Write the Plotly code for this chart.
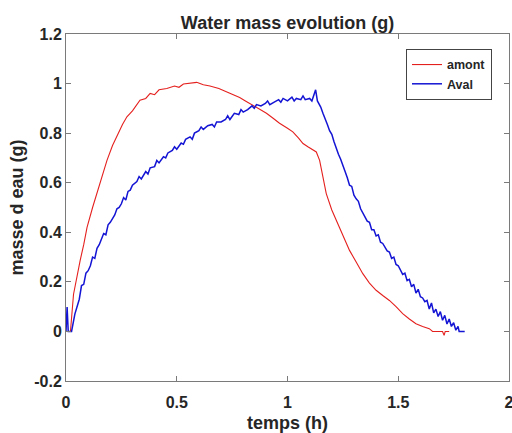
import plotly.graph_objects as go

amont_t = [0, 0.02, 0.034, 0.05, 0.064, 0.08, 0.095, 0.12, 0.14, 0.16, 0.185, 0.21, 0.237, 0.255, 0.275,
           0.30, 0.334, 0.36, 0.38, 0.40, 0.42, 0.455, 0.49, 0.51, 0.53, 0.56, 0.59, 0.62, 0.65, 0.69, 0.725, 0.76,
           0.784, 0.81, 0.844, 0.875, 0.905, 0.935, 0.964, 1.0, 1.024, 1.05, 1.07, 1.092, 1.11, 1.13,
           1.145, 1.16, 1.175, 1.20, 1.22, 1.25, 1.28, 1.31, 1.34, 1.37, 1.40, 1.43, 1.46, 1.49, 1.52,
           1.55, 1.58, 1.61, 1.64, 1.655, 1.70, 1.707, 1.712, 1.73]
amont_m = [0, 0, 0.15, 0.23, 0.287, 0.35, 0.42, 0.50, 0.556, 0.62, 0.69, 0.75, 0.805, 0.835, 0.866,
           0.89, 0.933, 0.94, 0.96, 0.955, 0.975, 0.98, 0.99, 0.985, 0.998, 1.0, 1.005, 0.995, 0.99, 0.98, 0.967, 0.955,
           0.944, 0.93, 0.913, 0.895, 0.88, 0.86, 0.84, 0.82, 0.805, 0.78, 0.758, 0.745, 0.735, 0.724,
           0.69, 0.62, 0.556, 0.49, 0.448, 0.385, 0.327, 0.28, 0.233, 0.195, 0.166, 0.145, 0.125, 0.10, 0.072,
           0.05, 0.031, 0.02, 0.011, 0.0, 0.0, -0.016, 0.0, 0.0]

aval_t = [0, 0.005, 0.01, 0.025, 0.04, 0.05, 0.06, 0.07, 0.08, 0.09, 0.10, 0.11, 0.12, 0.13, 0.14, 0.15,
          0.16, 0.17, 0.18, 0.19, 0.20, 0.21, 0.22, 0.23, 0.24, 0.25, 0.26, 0.27, 0.28, 0.29, 0.30, 0.32,
          0.33, 0.34, 0.36, 0.37, 0.38, 0.40, 0.41, 0.42, 0.44, 0.45, 0.46, 0.48, 0.49, 0.50, 0.52, 0.53,
          0.54, 0.56, 0.57, 0.58, 0.60, 0.61, 0.62, 0.64, 0.66, 0.67, 0.68, 0.70, 0.72, 0.73, 0.74, 0.76,
          0.78, 0.79, 0.80, 0.82, 0.84, 0.85, 0.86, 0.88, 0.90, 0.91, 0.92, 0.94, 0.96, 0.97, 0.98, 1.00,
          1.02, 1.03, 1.04, 1.06, 1.07, 1.08, 1.10, 1.11, 1.12, 1.127, 1.135, 1.15, 1.16, 1.17, 1.18, 1.19,
          1.20, 1.21, 1.22, 1.23, 1.24, 1.25, 1.26, 1.27, 1.28, 1.29, 1.30, 1.31, 1.32, 1.33, 1.34, 1.35,
          1.36, 1.37, 1.38, 1.39, 1.40, 1.41, 1.42, 1.43, 1.44, 1.45, 1.46, 1.47, 1.48, 1.49, 1.50, 1.51,
          1.52, 1.53, 1.54, 1.55, 1.56, 1.57, 1.58, 1.59, 1.60, 1.61, 1.62, 1.63, 1.64, 1.65, 1.66, 1.67,
          1.68, 1.69, 1.70, 1.71, 1.72, 1.73, 1.74, 1.75, 1.76, 1.77, 1.775, 1.80]
aval_m = [0.0, 0.098, 0.0, 0.0, 0.07, 0.10, 0.13, 0.185, 0.19, 0.235, 0.245, 0.265, 0.30, 0.295, 0.335, 0.35,
          0.37, 0.395, 0.39, 0.43, 0.44, 0.455, 0.47, 0.495, 0.50, 0.515, 0.54, 0.53, 0.565, 0.57, 0.59, 0.605,
          0.625, 0.615, 0.645, 0.635, 0.66, 0.665, 0.69, 0.68, 0.705, 0.70, 0.72, 0.73, 0.745, 0.735, 0.76, 0.755,
          0.775, 0.785, 0.775, 0.80, 0.81, 0.825, 0.815, 0.83, 0.835, 0.825, 0.845, 0.845, 0.855, 0.87, 0.855, 0.88,
          0.875, 0.895, 0.885, 0.895, 0.91, 0.90, 0.915, 0.91, 0.92, 0.93, 0.915, 0.925, 0.935, 0.925, 0.94, 0.93,
          0.945, 0.93, 0.94, 0.935, 0.95, 0.935, 0.94, 0.93, 0.955, 0.975, 0.93, 0.905, 0.88, 0.86, 0.835, 0.81,
          0.795, 0.765, 0.735, 0.715, 0.695, 0.665, 0.645, 0.62, 0.59, 0.585, 0.55, 0.535, 0.525, 0.495, 0.48, 0.465,
          0.445, 0.44, 0.41, 0.41, 0.385, 0.39, 0.36, 0.355, 0.34, 0.325, 0.32, 0.295, 0.30, 0.27, 0.265, 0.25,
          0.23, 0.235, 0.205, 0.21, 0.18, 0.19, 0.155, 0.17, 0.14, 0.135, 0.12, 0.125, 0.09, 0.115, 0.075, 0.09,
          0.06, 0.08, 0.045, 0.065, 0.03, 0.05, 0.02, 0.035, 0.005, 0.02, 0.0, 0.0]

x_ticks = [0, 0.5, 1, 1.5, 2]
x_labels = ["0", "0.5", "1", "1.5", "2"]
y_ticks = [-0.2, 0, 0.2, 0.4, 0.6, 0.8, 1, 1.2]
y_labels = ["-0.2", "0", "0.2", "0.4", "0.6", "0.8", "1", "1.2"]

FONT = "Liberation Sans, Arial, sans-serif"
TXT = "#262626"
AX = "#7a7a7a"

fig = go.Figure()
fig.add_trace(go.Scatter(x=amont_t, y=amont_m, mode="lines", name="amont",
                         line=dict(color="#e4201e", width=1.1)))
fig.add_trace(go.Scatter(x=aval_t, y=aval_m, mode="lines", name="Aval",
                         line=dict(color="#1414d4", width=1.5)))

fig.update_layout(
    width=512, height=433,
    margin=dict(l=66, r=3, t=34, b=52, autoexpand=False),
    paper_bgcolor="white", plot_bgcolor="white",
    font=dict(family=FONT, color=TXT, size=16, weight="bold"),
    title=dict(text="Water mass evolution (g)", x=0.5, xref="paper", xanchor="center",
               y=1 - 23 / 433, yanchor="middle",
               font=dict(size=18, color=TXT, weight="bold")),
    showlegend=True,
    legend=dict(x=0.9616, y=0.957, xanchor="right", yanchor="top",
                bgcolor="white", bordercolor="#444444", borderwidth=1,
                font=dict(size=12.5, color=TXT, weight="bold"), tracegroupgap=0,
                itemwidth=30),
)
fig.update_xaxes(range=[0, 2], tickvals=x_ticks, ticktext=x_labels, automargin=False,
                 showgrid=False, zeroline=False, showline=True, linecolor=AX, linewidth=1,
                 mirror="ticks", ticks="inside", ticklen=5, tickcolor=AX,
                 ticklabeloverflow="allow", ticklabelstandoff=7,
                 tickfont=dict(size=16, family=FONT, color=TXT, weight="bold"),
                 title=dict(text="temps (h)", font=dict(size=18, weight="bold"), standoff=8))
fig.update_yaxes(range=[-0.2, 1.2], tickvals=y_ticks, ticktext=y_labels, automargin=False,
                 showgrid=False, zeroline=False, showline=True, linecolor=AX, linewidth=1,
                 mirror="ticks", ticks="inside", ticklen=5, tickcolor=AX,
                 tickfont=dict(size=16, family=FONT, color=TXT, weight="bold"),
                 title=dict(text="masse d eau (g)", font=dict(size=18, weight="bold"), standoff=5))

fig.write_html("out.html", config={"displayModeBar": False},
               post_script="document.body.style.margin='0';document.body.style.overflow='hidden';")
